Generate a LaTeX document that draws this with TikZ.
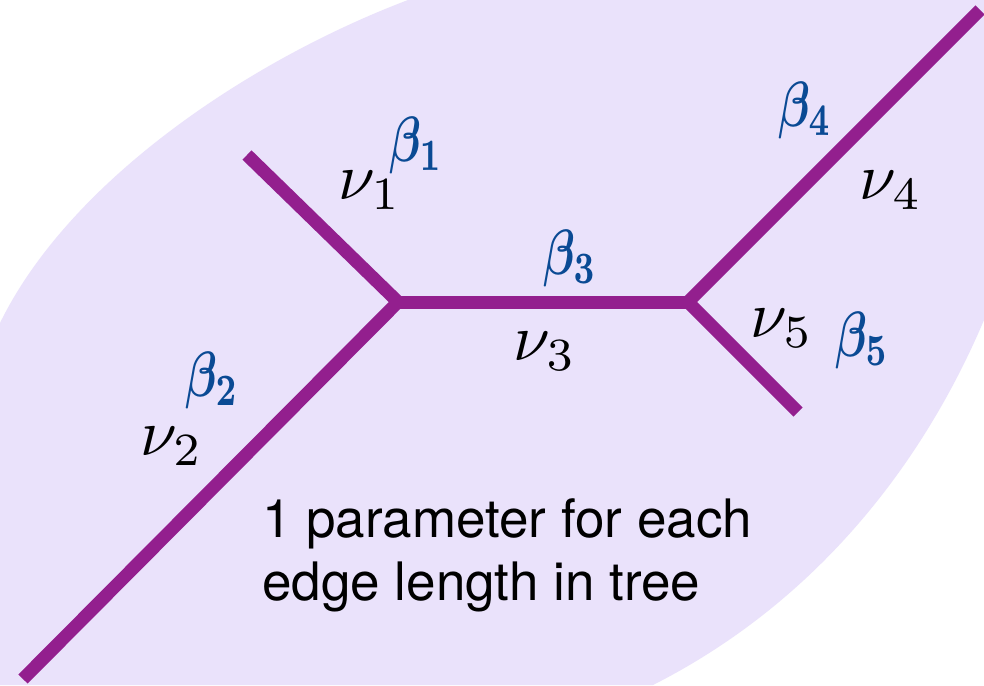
\documentclass[tikz,border=0pt]{standalone}
\usepackage{fontspec}
\newfontfamily\helv{TeX Gyre Heros}
\definecolor{blob}{HTML}{EAE2FB}
\definecolor{edgepurple}{HTML}{931F8E}
\definecolor{hand}{HTML}{0A4A94}
\newcommand{\nulab}[1]{\scalebox{6.6}{$\nu_{#1}$}}
\newcommand{\betalab}[1]{\scalebox{4.6}[6.4]{\boldmath$\beta_{#1}$}}
\begin{document}
\begin{tikzpicture}[x=1pt,y=-1pt,
  treeedge/.style={draw=edgepurple,line width=13pt},
  nulabel/.style={inner sep=0pt},
  betalabel/.style={inner sep=0pt,text=hand},
  caption/.style={inner sep=0pt,anchor=base west,font=\helv\fontsize{53}{53}\selectfont}]
\useasboundingbox (0,0) rectangle (984,685);
\fill[white] (0,0) rectangle (984,685);
\fill[blob] (408,0) -- (984,0) -- (984,320)
  .. controls (950,400) and (860,580) .. (653,685)
  -- (0,685) -- (0,323)
  .. controls (70,180) and (250,60) .. (408,0) -- cycle;
% tree
\coordinate (L) at (398,302);
\coordinate (R) at (688,302);
\coordinate (e1) at (247,155);
\coordinate (e2) at (23,679);
\coordinate (e4) at (980,10);
\coordinate (e5) at (798,412);
\draw[treeedge] (e1) -- (L) -- (e2);
\draw[treeedge] (L) -- (R);
\draw[treeedge] (e4) -- (R) -- (e5);
% nu labels
\node[nulabel] (n1) at (370,190) {\nulab{1}};
\node[nulabel] (n2) at (172,446) {\nulab{2}};
\node[nulabel] (n3) at (545,351) {\nulab{3}};
\node[nulabel] (n4) at (891,190) {\nulab{4}};
\node[nulabel] (n5) at (782,328) {\nulab{5}};
% beta labels
\node[betalabel] (b1) at (416,145) {\betalab{1}};
\node[betalabel] (b2) at (212,380) {\betalab{2}};
\node[betalabel] (b3) at (570,258) {\betalab{3}};
\node[betalabel] (b4) at (805,110) {\betalab{4}};
\node[betalabel] (b5) at (862,340) {\betalab{5}};
% caption
\node[caption] (t1) at (262,537) {1 parameter for each};
\node[caption] (t2) at (262,600) {edge length in tree};
\end{tikzpicture}
\end{document}
